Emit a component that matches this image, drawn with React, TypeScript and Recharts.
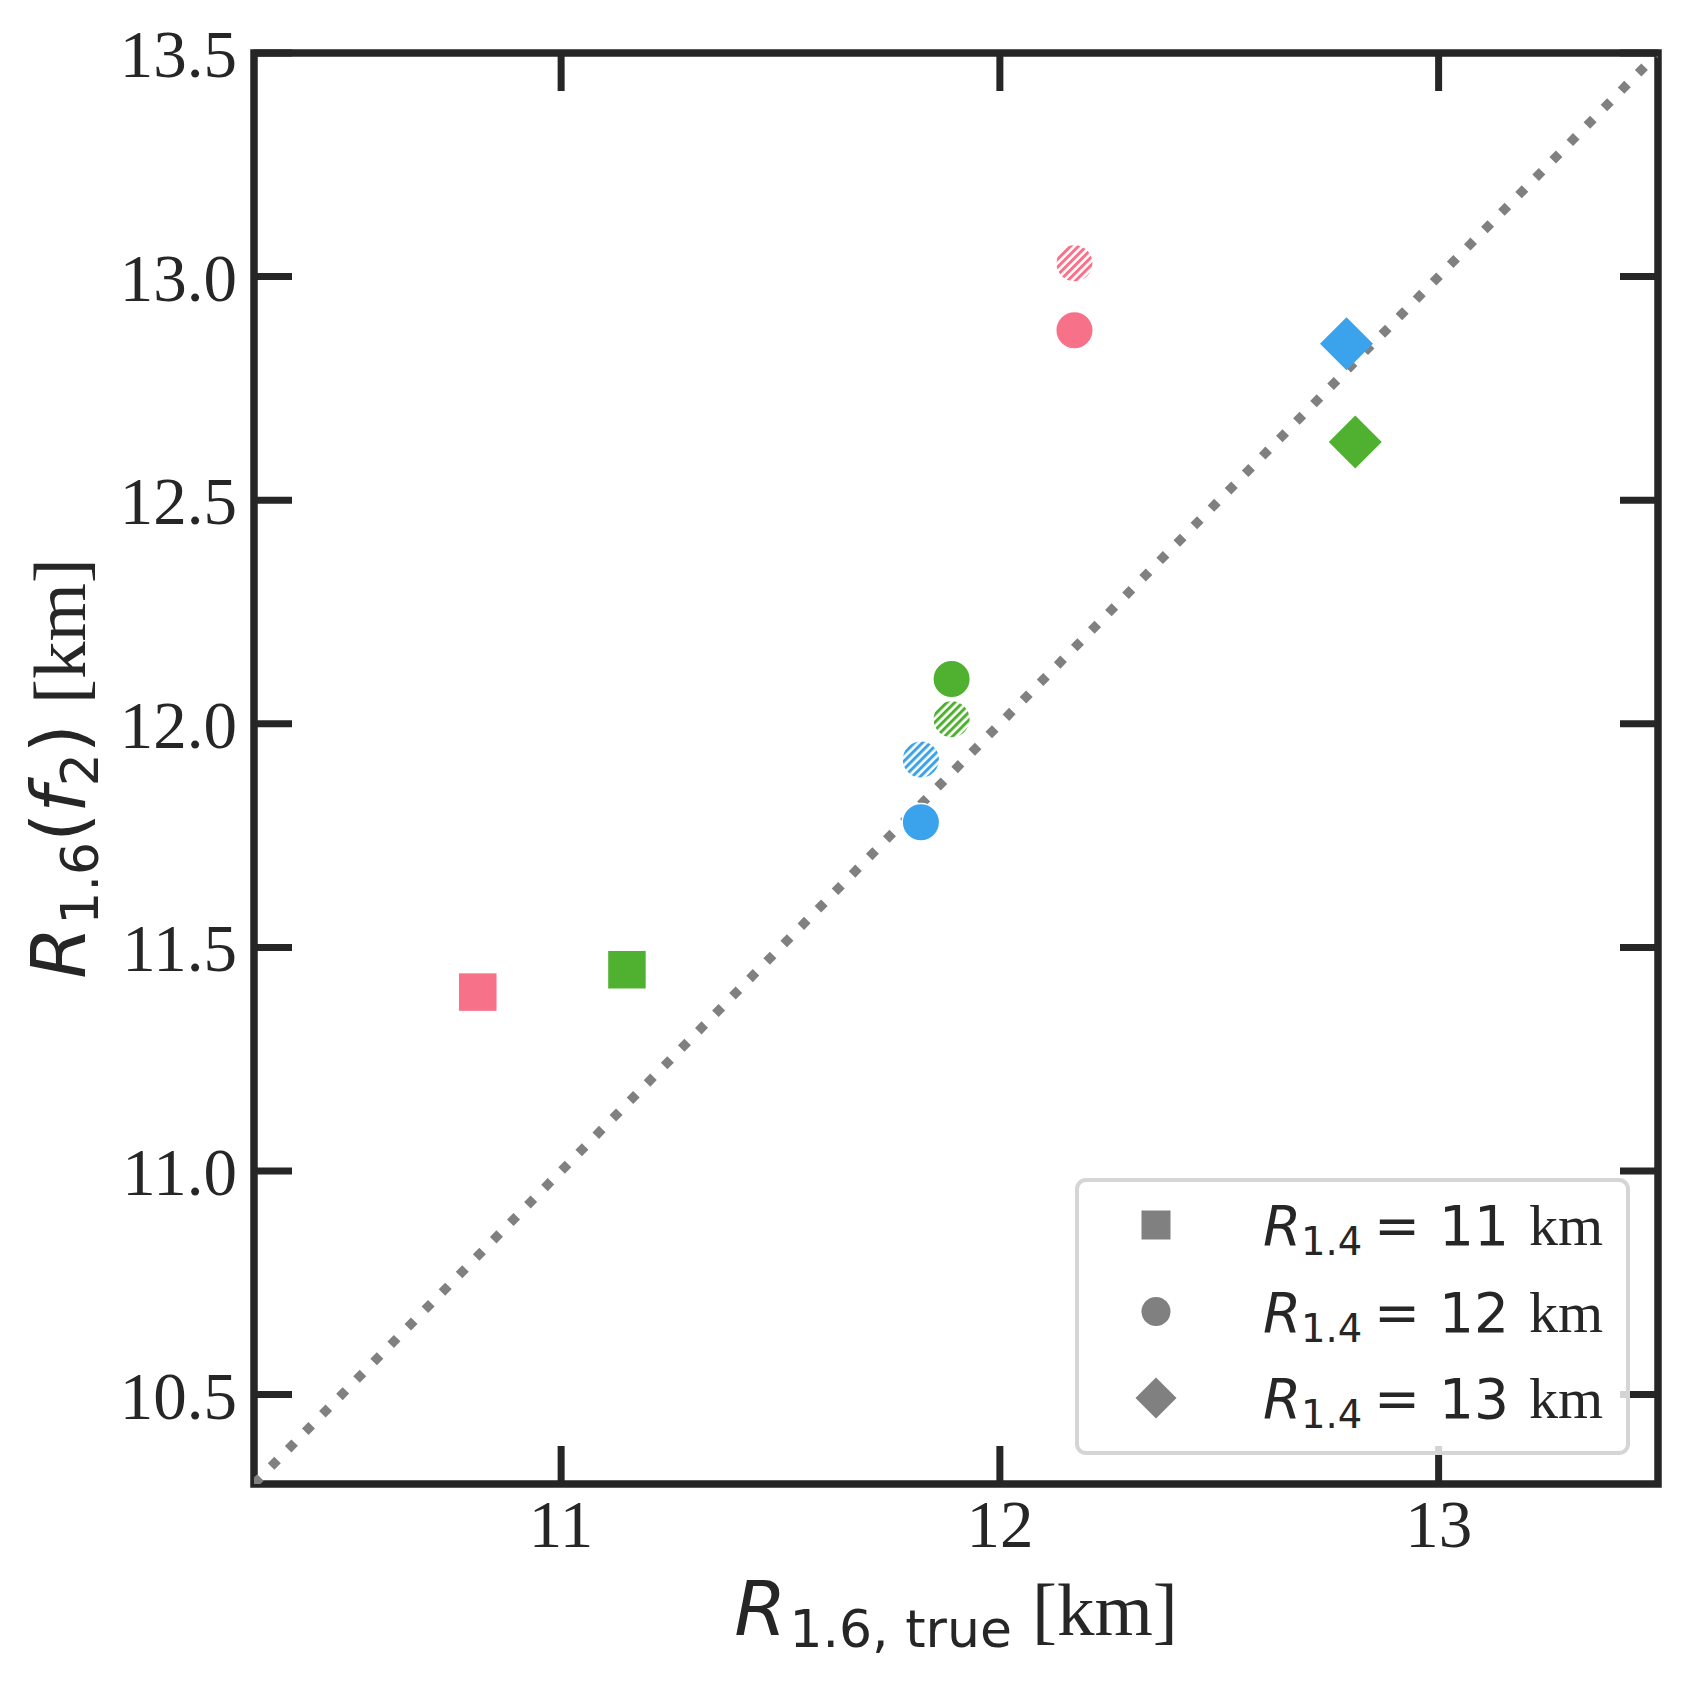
import {
  ScatterChart,
  Scatter,
  XAxis,
  YAxis,
  ReferenceLine,
  ReferenceArea,
  Legend,
} from "recharts";

const PINK = "#f77189";
const GREEN = "#50b131";
const BLUE = "#3ba3ec";
const GRAY = "#808080";
const INK = "#262626";

const AXIS_DOMAIN: [number, number] = [10.3, 13.5];
const X_TICKS = [11, 12, 13];
const Y_TICKS = [10.5, 11, 11.5, 12, 12.5, 13, 13.5];

// R_1.4 = 11 km -> squares
const SQUARE_R_TRUE = [10.81, 11.15];
const SQUARE_R_F2 = [11.4, 11.45];
const SQUARE_COLORS = [PINK, GREEN];

// R_1.4 = 12 km -> circles (solid and hatched)
const CIRCLE_R_TRUE = [12.17, 11.89, 11.82];
const CIRCLE_R_F2 = [12.88, 12.1, 11.78];
const CIRCLE_HATCH_R_F2 = [13.03, 12.01, 11.92];
const CIRCLE_COLORS = [PINK, GREEN, BLUE];

// R_1.4 = 13 km -> diamonds
const DIAMOND_R_TRUE = [12.79, 12.81];
const DIAMOND_R_F2 = [12.85, 12.63];
const DIAMOND_COLORS = [BLUE, GREEN];

const LEGEND_RADII = ["11", "12", "13"];
const LEGEND_SHAPES = ["square", "circle", "diamond"];

const squareData = SQUARE_R_TRUE.map((x, i) => ({ x, y: SQUARE_R_F2[i], color: SQUARE_COLORS[i] }));
const circleData = CIRCLE_R_TRUE.map((x, i) => ({ x, y: CIRCLE_R_F2[i], color: CIRCLE_COLORS[i] }));
const hatchData = CIRCLE_R_TRUE.map((x, i) => ({ x, y: CIRCLE_HATCH_R_F2[i], color: CIRCLE_COLORS[i] }));
const diamondData = DIAMOND_R_TRUE.map((x, i) => ({ x, y: DIAMOND_R_F2[i], color: DIAMOND_COLORS[i] }));
// only used so the mirrored top/right axes have something to scale
const mirrorData = AXIS_DOMAIN.map((v) => ({ x: v, y: v }));

const SERIF = "'Liberation Serif', 'Times New Roman', serif";
const SANS = "'DejaVu Sans', sans-serif";
const TICK_LEN = 38;
const TICK_W = 7;
const TICK_FONT = 67;
const MS = 37.5; // marker size

function BottomTick({ x, y, payload }: any) {
  return (
    <g>
      <line x1={x} y1={y} x2={x} y2={y - TICK_LEN} stroke={INK} strokeWidth={TICK_W} />
      <text x={x} y={y + 63} textAnchor="middle" fontFamily={SERIF} fontSize={TICK_FONT} fill={INK}>
        {payload.value}
      </text>
    </g>
  );
}

function LeftTick({ x, y, payload }: any) {
  return (
    <g>
      <line x1={x} y1={y} x2={x + TICK_LEN} y2={y} stroke={INK} strokeWidth={TICK_W} />
      <text x={x - 17} y={y + 24} textAnchor="end" fontFamily={SERIF} fontSize={TICK_FONT} fill={INK}>
        {Number(payload.value).toFixed(1)}
      </text>
    </g>
  );
}

function TopTick({ x, y }: any) {
  return <line x1={x} y1={y} x2={x} y2={y + TICK_LEN} stroke={INK} strokeWidth={TICK_W} />;
}

function RightTick({ x, y }: any) {
  return <line x1={x} y1={y} x2={x - TICK_LEN} y2={y} stroke={INK} strokeWidth={TICK_W} />;
}

function XLabel({ viewBox }: any) {
  const vb = viewBox || { x: 254, y: 1484, width: 1404, height: 201 };
  const cx = vb.x + vb.width / 2;
  return (
    <text x={cx} y={vb.y + 151} textAnchor="middle" fill={INK} fontSize={75} fontFamily={SANS}>
      <tspan fontStyle="italic">R</tspan>
      <tspan dx={3} dy={12} fontSize={52}>1.6, true</tspan>
      <tspan dx={20} dy={-12} fontFamily={SERIF}>[km]</tspan>
    </text>
  );
}

function YLabel({ viewBox }: any) {
  const vb = viewBox || { x: 0, y: 53, width: 254, height: 1431 };
  const cy = vb.y + vb.height / 2;
  return (
    <g transform={`translate(${vb.x + 85}, ${cy}) rotate(-90)`}>
      <text x={0} y={0} textAnchor="middle" fill={INK} fontSize={75} fontFamily={SANS}>
        <tspan fontStyle="italic">R</tspan>
        <tspan dx={2} dy={13} fontSize={52}>1.6</tspan>
        <tspan dy={-13}>(</tspan>
        <tspan fontStyle="italic">f</tspan>
        <tspan dy={13} fontSize={52}>2</tspan>
        <tspan dy={-13}>)</tspan>
        <tspan dx={20} fontFamily={SERIF}>[km]</tspan>
      </text>
    </g>
  );
}

function SquareShape({ cx, cy, payload }: any) {
  return <rect x={cx - MS / 2} y={cy - MS / 2} width={MS} height={MS} fill={payload.color} />;
}

function CircleShape({ cx, cy, payload }: any) {
  return <circle cx={cx} cy={cy} r={MS / 2} fill={payload.color} stroke="#fff" strokeWidth={1.5} />;
}

function HatchShape({ cx, cy, payload }: any) {
  const id = `hatch-${String(payload.color).slice(1)}`;
  return (
    <g>
      <defs>
        <pattern id={id} patternUnits="userSpaceOnUse" width={5.6} height={5.6} patternTransform="rotate(45)">
          <rect x={0} y={0} width={3} height={5.6} fill={payload.color} />
        </pattern>
      </defs>
      <circle cx={cx} cy={cy} r={MS / 2} fill="#fff" />
      <circle cx={cx} cy={cy} r={MS / 2} fill={`url(#${id})`} stroke="#fff" strokeWidth={1.5} />
    </g>
  );
}

function DiamondShape({ cx, cy, payload }: any) {
  const h = MS * 0.707;
  return (
    <polygon
      points={`${cx},${cy - h} ${cx + h},${cy} ${cx},${cy + h} ${cx - h},${cy}`}
      fill={payload.color}
    />
  );
}

function LegendMarker({ shape, cx, cy }: { shape: string; cx: number; cy: number }) {
  const s = 29;
  if (shape === "square") return <rect x={cx - s / 2} y={cy - s / 2} width={s} height={s} fill={GRAY} />;
  if (shape === "circle") return <circle cx={cx} cy={cy} r={s / 2} fill={GRAY} />;
  const h = s * 0.707;
  return <polygon points={`${cx},${cy - h} ${cx + h},${cy} ${cx},${cy + h} ${cx - h},${cy}`} fill={GRAY} />;
}

function LegendBox() {
  return (
    <svg width={555} height={277} style={{ display: "block" }}>
      <rect x={2} y={2} width={551} height={273} rx={9} fill="#fff" fillOpacity={0.8} stroke="#d5d5d5" strokeWidth={4} />
      {LEGEND_RADII.map((r, i) => {
        const cy = 47 + i * 86.5;
        return (
          <g key={r}>
            <LegendMarker shape={LEGEND_SHAPES[i]} cx={81} cy={cy} />
            <text y={cy + 20} fill={INK} fontSize={55} fontFamily={SANS}>
              <tspan x={188} fontStyle="italic">R</tspan>
              <tspan x={226} dy={10} fontSize={38.5}>1.4</tspan>
              <tspan x={299} dy={-10}>=</tspan>
              <tspan x={364}>{r}</tspan>
              <tspan x={454} fontFamily={SERIF} fontSize={58}>km</tspan>
            </text>
          </g>
        );
      })}
    </svg>
  );
}

export default function App() {
  return (
    <div style={{ position: "absolute", left: 0, top: 0, background: "#fff" }}>
      <ScatterChart width={1687} height={1685} margin={{ top: 52, right: 28, bottom: 0, left: 0 }}>
        <XAxis
          type="number"
          dataKey="x"
          domain={AXIS_DOMAIN}
          allowDataOverflow
          ticks={X_TICKS}
          interval={0}
          height={201}
          axisLine={false}
          tickLine={false}
          tickSize={0}
          tickMargin={0}
          tick={<BottomTick />}
          label={{ content: (p: any) => <XLabel viewBox={p.viewBox} /> }}
        />
        <XAxis
          xAxisId="top"
          orientation="top"
          type="number"
          dataKey="x"
          domain={AXIS_DOMAIN}
          allowDataOverflow
          ticks={X_TICKS}
          interval={0}
          height={1}
          axisLine={false}
          tickLine={false}
          tickSize={0}
          tickMargin={0}
          tick={<TopTick />}
        />
        <YAxis
          type="number"
          dataKey="y"
          domain={AXIS_DOMAIN}
          allowDataOverflow
          ticks={Y_TICKS}
          interval={0}
          width={254}
          axisLine={false}
          tickLine={false}
          tickSize={0}
          tickMargin={0}
          tick={<LeftTick />}
          label={{ content: (p: any) => <YLabel viewBox={p.viewBox} /> }}
        />
        <YAxis
          yAxisId="right"
          orientation="right"
          type="number"
          dataKey="y"
          domain={AXIS_DOMAIN}
          allowDataOverflow
          ticks={Y_TICKS}
          interval={0}
          width={1}
          axisLine={false}
          tickLine={false}
          tickSize={0}
          tickMargin={0}
          tick={<RightTick />}
        />
        <Scatter
          xAxisId="top"
          yAxisId="right"
          data={mirrorData}
          shape={() => <g />}
          isAnimationActive={false}
        />
        <Scatter data={squareData} shape={<SquareShape />} isAnimationActive={false} />
        <Scatter data={hatchData} shape={<HatchShape />} isAnimationActive={false} />
        <Scatter data={circleData} shape={<CircleShape />} isAnimationActive={false} />
        <Scatter data={diamondData} shape={<DiamondShape />} isAnimationActive={false} />
        <ReferenceLine
          segment={[
            { x: AXIS_DOMAIN[0], y: AXIS_DOMAIN[0] },
            { x: AXIS_DOMAIN[1], y: AXIS_DOMAIN[1] },
          ]}
          stroke={GRAY}
          strokeWidth={9.2}
          strokeDasharray="9.2 15.2"
          ifOverflow="hidden"
        />
        <ReferenceArea
          x1={AXIS_DOMAIN[0]}
          x2={AXIS_DOMAIN[1]}
          y1={AXIS_DOMAIN[0]}
          y2={AXIS_DOMAIN[1]}
          fill="none"
          fillOpacity={0}
          stroke={INK}
          strokeWidth={7.5}
          ifOverflow="visible"
        />
        <Legend
          layout="horizontal"
          verticalAlign="middle"
          align="center"
          content={() => <LegendBox />}
          wrapperStyle={{ left: 1075, top: 1178, width: 555, height: 277 }}
        />
      </ScatterChart>
    </div>
  );
}
